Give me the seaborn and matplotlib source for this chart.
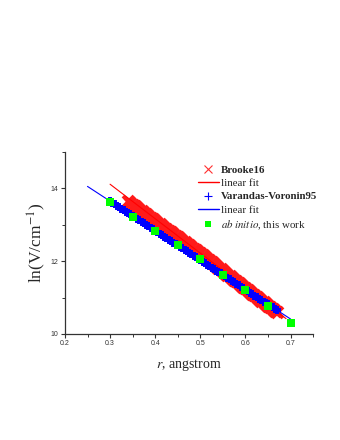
#!/usr/bin/env python3

import matplotlib
matplotlib.use("Agg")
import matplotlib.pyplot as plt
from matplotlib.lines import Line2D
import seaborn as sns

sns.set_theme(style="white")
plt.rcParams["font.family"] = ["Liberation Serif", "DejaVu Serif"]
plt.rcParams["mathtext.fontset"] = "stix"

# Brooke16 points (red crosses), dense band
brooke_r = [0.340, 0.345, 0.350, 0.355, 0.360, 0.365, 0.370, 0.375, 0.380, 0.385,
            0.390, 0.395, 0.400, 0.405, 0.410, 0.415, 0.420, 0.425, 0.430, 0.435,
            0.440, 0.445, 0.450, 0.455, 0.460, 0.465, 0.470, 0.475, 0.480, 0.485,
            0.490, 0.495, 0.500, 0.505, 0.510, 0.515, 0.520, 0.525, 0.530, 0.535,
            0.540, 0.545, 0.550, 0.555, 0.560, 0.565, 0.570, 0.575, 0.580, 0.585,
            0.590, 0.595, 0.600, 0.605, 0.610, 0.615, 0.620, 0.625, 0.630, 0.635,
            0.640, 0.645, 0.650, 0.655, 0.660, 0.665, 0.670]
brooke_lnv = [13.64, 13.595, 13.55, 13.505, 13.46, 13.415, 13.37, 13.325, 13.28, 13.235,
              13.19, 13.145, 13.10, 13.055, 13.01, 12.965, 12.92, 12.875, 12.83, 12.785,
              12.74, 12.695, 12.65, 12.605, 12.56, 12.515, 12.47, 12.43, 12.39, 12.345,
              12.30, 12.255, 12.21, 12.165, 12.12, 12.07, 12.02, 11.97, 11.92, 11.87,
              11.82, 11.775, 11.73, 11.68, 11.63, 11.585, 11.54, 11.49, 11.44, 11.39,
              11.345, 11.30, 11.25, 11.20, 11.15, 11.105, 11.06, 11.01, 10.96, 10.915,
              10.87, 10.825, 10.78, 10.735, 10.69, 10.64, 10.59]

# Varandas-Voronin95 points (blue pluses), dense band
vv_r = [0.300, 0.305, 0.310, 0.315, 0.320, 0.325, 0.330, 0.335, 0.340, 0.345,
        0.350, 0.355, 0.360, 0.365, 0.370, 0.375, 0.380, 0.385, 0.390, 0.395,
        0.400, 0.405, 0.410, 0.415, 0.420, 0.425, 0.430, 0.435, 0.440, 0.445,
        0.450, 0.455, 0.460, 0.465, 0.470, 0.475, 0.480, 0.485, 0.490, 0.495,
        0.500, 0.505, 0.510, 0.515, 0.520, 0.525, 0.530, 0.535, 0.540, 0.545,
        0.550, 0.555, 0.560, 0.565, 0.570, 0.575, 0.580, 0.585, 0.590, 0.595,
        0.600, 0.605, 0.610, 0.615, 0.620, 0.625, 0.630, 0.635, 0.640, 0.645,
        0.650, 0.655, 0.660, 0.665, 0.670]
vv_lnv = [13.64, 13.60, 13.56, 13.52, 13.48, 13.44, 13.40, 13.36, 13.32, 13.28,
          13.24, 13.20, 13.16, 13.12, 13.08, 13.04, 13.00, 12.96, 12.92, 12.87,
          12.83, 12.79, 12.75, 12.71, 12.67, 12.63, 12.59, 12.55, 12.51, 12.47,
          12.43, 12.39, 12.35, 12.31, 12.27, 12.23, 12.19, 12.15, 12.11, 12.07,
          12.03, 11.98, 11.94, 11.90, 11.86, 11.82, 11.78, 11.74, 11.70, 11.66,
          11.62, 11.58, 11.54, 11.50, 11.46, 11.42, 11.38, 11.34, 11.30, 11.26,
          11.22, 11.17, 11.13, 11.09, 11.05, 11.01, 10.97, 10.93, 10.89, 10.85,
          10.81, 10.77, 10.73, 10.69, 10.65]

# linear fits (end points)
brooke_fit_r = [0.30, 0.69]
brooke_fit_lnv = [14.11, 10.42]
vv_fit_r = [0.25, 0.70]
vv_fit_lnv = [14.05, 10.41]

# ab initio, this work (green squares)
abinitio_r = [0.30, 0.35, 0.40, 0.45, 0.50, 0.55, 0.60, 0.65, 0.70]
abinitio_lnv = [13.61, 13.21, 12.83, 12.43, 12.05, 11.63, 11.21, 10.78, 10.29]

x_ticks = [0.2, 0.3, 0.4, 0.5, 0.6, 0.7]
y_ticks = [10, 12, 14]

legend_labels = ["Brooke16", "linear fit", "Varandas-Voronin95", "linear fit",
                 r"$\mathit{ab\ initio}$, this work"]


def main():
    fig = plt.figure(figsize=(3.4, 4.4), dpi=100)
    ax = fig.add_axes([0.191, 0.241, 0.730, 0.414])

    sns.scatterplot(x=brooke_r, y=brooke_lnv, marker="x", color="#ff1a1a",
                    s=62, linewidth=2.8, ax=ax, zorder=2)
    sns.lineplot(x=brooke_fit_r, y=brooke_fit_lnv, color="#ff0000", linewidth=0.8,
                 ax=ax, zorder=3)
    sns.scatterplot(x=vv_r, y=vv_lnv, marker="+", color="#0000ff",
                    s=40, linewidth=2.8, ax=ax, zorder=4)
    sns.lineplot(x=vv_fit_r, y=vv_fit_lnv, color="#0000ff", linewidth=0.8,
                 ax=ax, zorder=5)
    sns.scatterplot(x=abinitio_r, y=abinitio_lnv, marker="s", color="#00ff00",
                    s=32, linewidth=0, ax=ax, zorder=6)

    ax.set_xlim(0.2, 0.75)
    ax.set_ylim(10, 15)
    ax.set_xticks(x_ticks)
    ax.set_xticklabels([f"{t:.1f}" for t in x_ticks])
    ax.set_yticks(y_ticks)
    ax.set_xticks([0.25, 0.35, 0.45, 0.55, 0.65, 0.75], minor=True)
    ax.set_yticks([11, 13, 15], minor=True)

    for side in ["top", "right"]:
        ax.spines[side].set_visible(False)
    for side in ["left", "bottom"]:
        ax.spines[side].set_color("#333333")
        ax.spines[side].set_linewidth(0.9)

    ax.tick_params(which="major", direction="out", length=3, width=0.8,
                   color="#333333", labelsize=5, labelcolor="#333333", pad=1.5,
                   bottom=True, left=True)
    ax.tick_params(which="minor", direction="out", length=2, width=0.7,
                   color="#333333", bottom=True, left=True)
    for lab in ax.get_xticklabels() + ax.get_yticklabels():
        lab.set_family(["Liberation Sans", "DejaVu Sans"])

    ax.set_xlabel(r"$\mathit{r}$, angstrom", fontsize=10, labelpad=7)
    ax.set_ylabel(r"ln(V/cm$^{-1}$)", fontsize=12.5, labelpad=2)

    handles = [
        Line2D([], [], marker="x", color="#ff3030", linestyle="", markersize=6, mew=0.8),
        Line2D([], [], color="#ff0000", linewidth=1.0),
        Line2D([], [], marker="+", color="#0000ff", linestyle="", markersize=6, mew=0.8),
        Line2D([], [], color="#0000ff", linewidth=1.0),
        Line2D([], [], marker="s", color="#00ff00", linestyle="", markersize=5, mew=0),
    ]
    leg = ax.legend(handles, legend_labels, loc="upper left",
                    bbox_to_anchor=(0.581, 0.625), bbox_transform=fig.transFigure,
                    frameon=False, fontsize=7.8, handlelength=2.0,
                    handletextpad=0.15, labelspacing=0.35, borderpad=0,
                    borderaxespad=0)
    for i in (0, 2):
        leg.get_texts()[i].set_fontweight("bold")

    fig.savefig("out.png", dpi=100)
    plt.close(fig)


if __name__ == "__main__":
    main()
